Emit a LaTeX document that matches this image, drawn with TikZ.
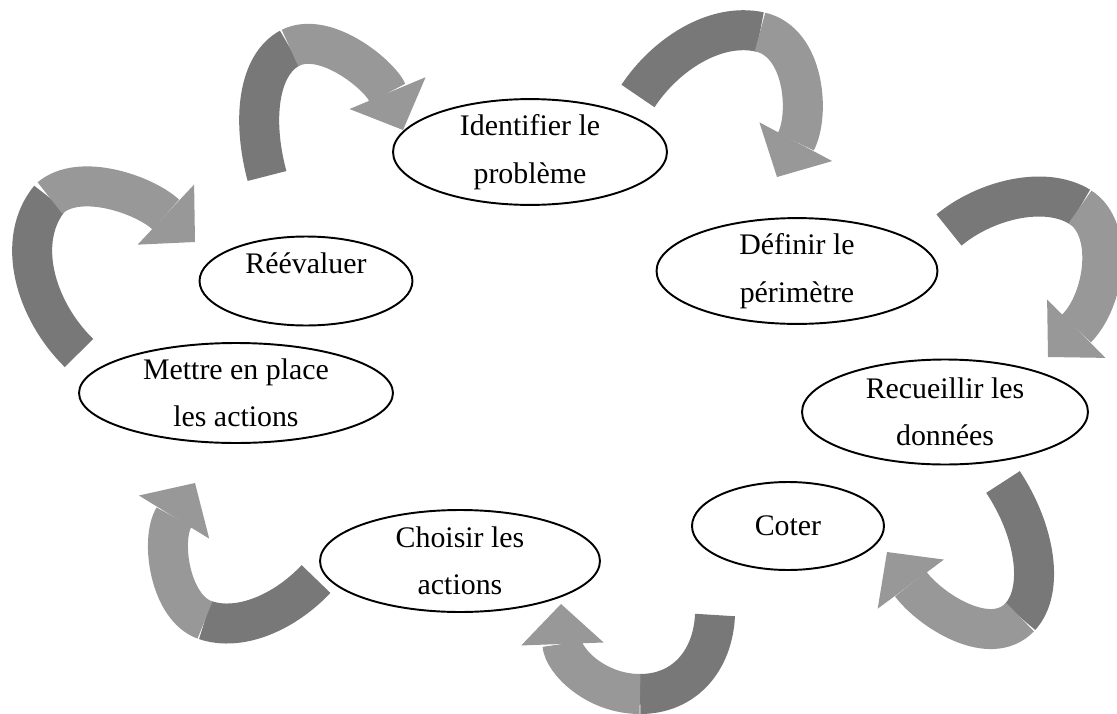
\documentclass[tikz,border=0pt]{standalone}
\usepackage{fontspec}
\setmainfont{Liberation Serif}
\usetikzlibrary{positioning,shapes.geometric,arrows.meta}
\definecolor{BandDark}{RGB}{120,120,120}
\definecolor{BandLight}{RGB}{152,152,152}
\tikzset{
	stage/.style={ellipse,draw=black,line width=1.1pt,fill=white,inner sep=0pt,align=center,
		font=\fontsize{17}{27}\selectfont},
	tailband/.style={draw=BandDark,line width=0.8cm},
	headband/.style={draw=BandLight,line width=0.8cm,
		-{Triangle[length=0.8cm,width=1.65cm,line width=0pt]}},
}
\begin{document}
\begin{tikzpicture}[x=0.02cm,y=-0.02cm]
	\useasboundingbox (0,0) rectangle (1117,714);
	% curved arrows: dark tail, light head
	\coordinate (t1) at (267,176); \coordinate (m1) at (290,48);  \coordinate (h1) at (403,130);
	\coordinate (t2) at (638,96);  \coordinate (m2) at (760,32);  \coordinate (h2) at (777,177);
	\coordinate (t3) at (949,230); \coordinate (m3) at (1080,207); \coordinate (h3) at (1048,357);
	\coordinate (t4) at (1003,482); \coordinate (m4) at (1020,617); \coordinate (h4) at (887,552);
	\coordinate (t5) at (715,615); \coordinate (m5) at (640,694); \coordinate (h5) at (561,604);
	\coordinate (t6) at (316,579); \coordinate (m6) at (205,620); \coordinate (h6) at (195,483);
	\coordinate (t7) at (79,353);  \coordinate (m7) at (50,198);  \coordinate (h7) at (195,242);
	\draw[tailband] (t1) .. controls (252,120) and (258,65) .. (m1);
	\draw[headband] (m1) .. controls (325,30) and (380,75) .. (h1);
	\draw[tailband] (t2) .. controls (665,55) and (715,22) .. (m2);
	\draw[headband] (m2) .. controls (805,42) and (810,115) .. (h2);
	\draw[tailband] (t3) .. controls (985,200) and (1045,185) .. (m3);
	\draw[headband] (m3) .. controls (1115,229) and (1105,300) .. (h3);
	\draw[tailband] (t4) .. controls (1035,530) and (1045,590) .. (m4);
	\draw[headband] (m4) .. controls (990,649) and (930,610) .. (h4);
	\draw[tailband] (t5) .. controls (713,660) and (685,694) .. (m5);
	\draw[headband] (m5) .. controls (595,694) and (563,660) .. (h5);
	\draw[tailband] (t6) .. controls (285,612) and (240,632) .. (m6);
	\draw[headband] (m6) .. controls (170,608) and (160,540) .. (h6);
	\draw[tailband] (t7) .. controls (35,310) and (15,240) .. (m7);
	\draw[headband] (m7) .. controls (80,172) and (145,195) .. (h7);
	% stages
	\node[stage,minimum width=5.48cm,minimum height=1.92cm] (ident) at (530,152) {Identifier le\\problème};
	\node[stage,minimum width=5.62cm,minimum height=1.96cm] (perim) at (797,271) {Définir le\\périmètre};
	\node[stage,minimum width=5.72cm,minimum height=2.1cm] (donnees) at (945,412) {Recueillir les\\données};
	\node[stage,minimum width=3.84cm,minimum height=1.76cm] (coter) at (788,526) {Coter};
	\node[stage,minimum width=5.6cm,minimum height=2.04cm] (choix) at (460,561) {Choisir les\\actions};
	\node[stage,minimum width=6.28cm,minimum height=2cm] (mettre) at (236,393) {Mettre en place\\les actions};
	\node[stage,minimum width=4.26cm,minimum height=1.78cm,text depth=0.7cm] (reeval) at (306,281) {Réévaluer};
\end{tikzpicture}
\end{document}
